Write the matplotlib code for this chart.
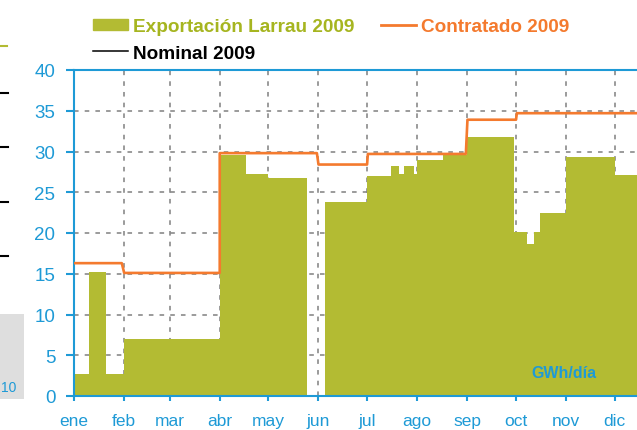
import matplotlib
matplotlib.use('Agg')

import matplotlib.pyplot as plt
from matplotlib.lines import Line2D
from matplotlib.patches import Patch, Rectangle

plt.rcParams['font.family'] = ['Liberation Sans', 'DejaVu Sans']

# ==========================================
# datos: día del año -> GWh/día
# ==========================================
meses = ['ene', 'feb', 'mar', 'abr', 'may', 'jun', 'jul', 'ago', 'sep', 'oct', 'nov', 'dic']
dias_mes = [0, 31, 59, 90, 120, 151, 181, 212, 243, 273, 304, 334]

# Exportación Larrau 2009 (escalones)
export_dias = [0, 9, 20, 31, 90, 106, 120, 144, 155, 181, 196, 201, 204, 210, 212, 228,
               243, 272, 280, 284, 288, 304, 334, 350]
export_vals = [2.75, 15.2, 2.75, 7.0, 29.6, 27.2, 26.7, 0.0, 23.8, 27.0, 28.2, 27.3, 28.2, 27.3, 29.0, 29.6,
               31.8, 20.1, 18.7, 20.1, 22.5, 29.3, 27.1, 27.1]

# Contratado 2009
contrat_dias = [0, 29.5, 31, 90, 90, 150, 151, 181, 181.5, 242, 243, 273, 273.5, 365]
contrat_vals = [16.3, 16.3, 15.1, 15.1, 29.8, 29.8, 28.4, 28.4, 29.7, 29.7, 33.9, 33.9, 34.7, 34.7]

verde = '#b3bb33'
verde_txt = '#a6b520'
naranja = '#f47a2e'
azul = '#1e9ad6'
gris = '#808080'

# ==========================================
# figura
# ==========================================
W, H = 637, 431
fig = plt.figure(figsize=(W / 100, H / 100), dpi=100)
# el eje derecho queda fuera del recorte (como en el original)
ax = fig.add_axes([74 / W, 1 - 397 / H, (665 - 74) / W, (397 - 71) / H])

ax.fill_between(export_dias, export_vals, 0, step='post', color=verde, lw=0, zorder=2)
ax.plot(contrat_dias, contrat_vals, color=naranja, lw=1.9, zorder=3)

ax.set_xlim(0, 365)
ax.set_ylim(0, 40)
ax.set_xticks(dias_mes)
ax.set_xticklabels(meses)
ax.set_yticks(range(0, 41, 5))

ax.set_axisbelow(True)
ax.grid(True, color=gris, linestyle=(0, (3, 4)), lw=1.1)

for s in ['left', 'top', 'bottom']:
    ax.spines[s].set_color(azul)
    ax.spines[s].set_linewidth(1.5)
ax.spines['right'].set_visible(False)

ax.tick_params(axis='y', colors=azul, length=6, width=1.5, pad=7.5, labelsize=13.5)
ax.tick_params(axis='x', colors=azul, length=3.6, width=1.5, pad=9, labelsize=12.5)

ax.text((597 - 74) / (665 - 74), (397 - 374) / 326, 'GWh/día', transform=ax.transAxes,
        ha='right', va='center', color=azul, fontsize=11.5, fontweight='bold')

# leyenda
handles = [Patch(color=verde), Line2D([], [], color='black', lw=1.1), Line2D([], [], color=naranja, lw=2)]
labels = ['Exportación Larrau 2009', 'Nominal 2009', 'Contratado 2009']
leg = fig.legend(handles, labels, ncol=2, loc='upper left', bbox_to_anchor=(93 / W, 1 - 19 / H),
                 frameon=False, prop={'size': 13.7, 'weight': 'bold'}, handlelength=1.84,
                 handleheight=0.5, handletextpad=0.26, columnspacing=1.42, labelspacing=0.5,
                 borderpad=0, borderaxespad=0)
for t, c in zip(leg.get_texts(), [verde_txt, 'black', naranja]):
    t.set_color(c)

# restos del gráfico vecino (borde izquierdo del recorte)
fig.add_artist(Line2D([0, 7 / W], [1 - 47 / H] * 2, color=verde, lw=1.5, transform=fig.transFigure))
for yy in [94, 148, 203, 257]:
    fig.add_artist(Line2D([0, 8 / W], [1 - yy / H] * 2, color='black', lw=1.5, transform=fig.transFigure))
fig.add_artist(Rectangle((0, 1 - 400 / H), 24 / W, 85 / H, transform=fig.transFigure,
                         color='#dedede', lw=0))
fig.text(1 / W, 1 - 388 / H, '10', color=azul, fontsize=10, ha='left', va='center')

fig.savefig('out.png', dpi=100)
